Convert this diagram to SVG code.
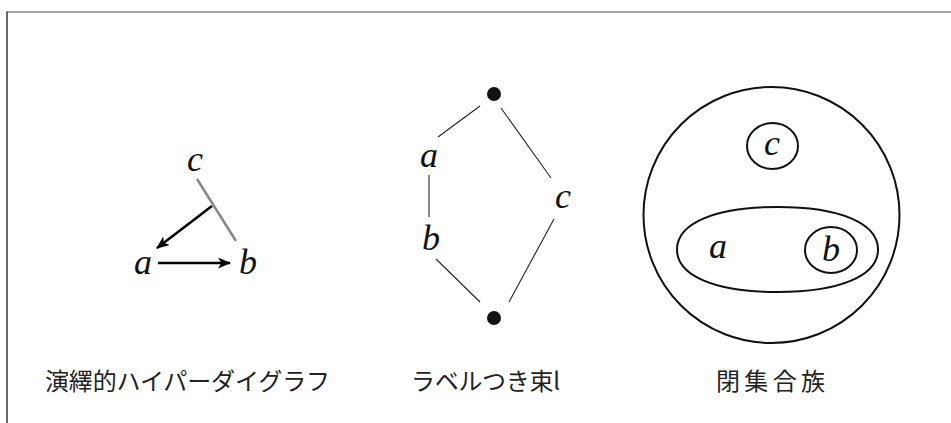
<svg xmlns="http://www.w3.org/2000/svg" width="951" height="423" viewBox="0 0 951 423">
<style>
.lbl{font-family:"Liberation Serif","DejaVu Serif",serif;font-style:italic;font-size:36px;fill:#111;text-anchor:middle}
.cap{font-family:"Noto Sans CJK JP","Noto Sans",sans-serif;font-size:24px;fill:#222}
.thin{stroke:#222;stroke-width:1.1;fill:none}
.set{stroke:#111;stroke-width:2;fill:none}
.arr{stroke:#000;stroke-width:2.5;fill:none;marker-end:url(#ah)}
</style>
<defs>
<marker id="ah" viewBox="0 0 12 10" refX="11" refY="5" markerWidth="13" markerHeight="11" markerUnits="userSpaceOnUse" orient="auto">
<path d="M0,0 L12,5 L0,10 L3,5 z" fill="#000"/>
</marker>
</defs>
<g id="frame">
<line x1="7" y1="12" x2="951" y2="12" stroke="#888" stroke-width="1.5"/>
<line x1="7" y1="11.5" x2="7" y2="423" stroke="#333" stroke-width="1.5"/>
</g>
<g id="hypergraph">
<g id="hg-c"><text class="lbl" x="195" y="171">c</text></g>
<g id="hg-a"><text class="lbl" x="143" y="274">a</text></g>
<g id="hg-b"><text class="lbl" x="248" y="274">b</text></g>
<g id="hg-edges">
<line x1="197" y1="179" x2="236" y2="241" stroke="#888" stroke-width="2.5"/>
<line class="arr" x1="212" y1="206" x2="157" y2="248"/>
<line class="arr" x1="158" y1="263" x2="230" y2="263"/>
</g>
</g>
<g id="lattice">
<g id="lt-top"><circle cx="494" cy="94" r="7" fill="#111"/></g>
<g id="lt-bot"><circle cx="494" cy="318" r="7" fill="#111"/></g>
<g id="lt-a"><text class="lbl" x="429" y="167">a</text></g>
<g id="lt-b"><text class="lbl" x="431" y="250">b</text></g>
<g id="lt-c"><text class="lbl" x="563" y="208">c</text></g>
<g id="lt-edges">
<line class="thin" x1="480" y1="106" x2="438" y2="137"/>
<line class="thin" x1="501" y1="108" x2="551" y2="178"/>
<line class="thin" x1="429" y1="175" x2="429" y2="217"/>
<line class="thin" x1="436" y1="259" x2="480" y2="302"/>
<line class="thin" x1="554" y1="219" x2="509" y2="302"/>
</g>
</g>
<g id="closure">
<g id="cl-all"><circle class="set" cx="771.5" cy="215" r="128"/></g>
<g id="cl-c"><ellipse class="set" cx="772.5" cy="146" rx="25.5" ry="23"/><text class="lbl" x="772" y="155">c</text></g>
<g id="cl-ab"><path class="set" d="M878,249.5 C878,275.9 839.8,292 777.5,292 C715.2,292 677,275.9 677,249.5 C677,223.1 715.2,207 777.5,207 C839.8,207 878,223.1 878,249.5 Z"/><text class="lbl" x="718" y="258">a</text></g>
<g id="cl-b"><ellipse class="set" cx="831" cy="250" rx="26" ry="23"/><text class="lbl" x="831" y="261">b</text></g>
</g>
<g id="captions">
<text class="cap" x="45" y="390" textLength="285">演繹的ハイパーダイグラフ</text>
<text class="cap" x="411" y="390" textLength="149">ラベルつき束l</text>
<text class="cap" x="716" y="390" textLength="109">閉集合族</text>
</g>
</svg>
